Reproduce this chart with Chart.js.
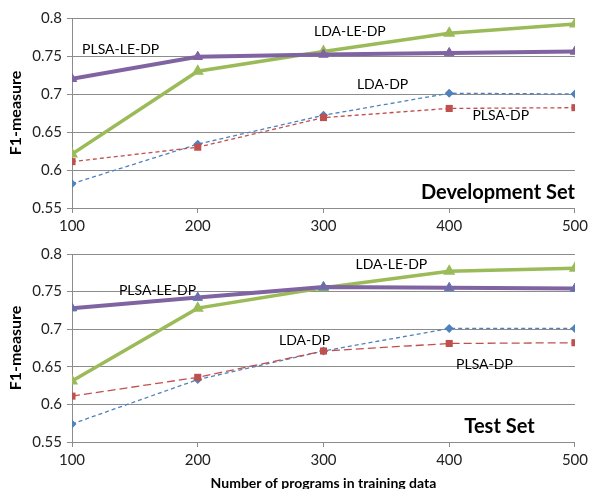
<!DOCTYPE html>
<html>
<head>
<meta charset="utf-8">
<script src="https://cdn.jsdelivr.net/npm/chart.js@4.4.1/dist/chart.umd.min.js"></script>
<style>
  html, body { margin: 0; padding: 0; background: #fff; }
  .box { position: relative; width: 592px; }
  #devBox { height: 240px; }
  #testBox { height: 249px; }
</style>
</head>
<body>
<div class="box" id="devBox"><canvas id="devChart"></canvas></div>
<div class="box" id="testBox"><canvas id="testChart"></canvas></div>
<script>
// データ
const trainSizes = [100, 200, 300, 400, 500];
const yTicks = [0.55, 0.6, 0.65, 0.7, 0.75, 0.8];

const devPlsaLe = [0.720, 0.749, 0.752, 0.754, 0.756];
const devLdaLe  = [0.621, 0.730, 0.756, 0.780, 0.792];
const devLda    = [0.582, 0.634, 0.672, 0.701, 0.700];
const devPlsa   = [0.611, 0.630, 0.669, 0.681, 0.682];

const testPlsaLe = [0.728, 0.742, 0.756, 0.755, 0.754];
const testLdaLe  = [0.631, 0.728, 0.755, 0.777, 0.781];
const testLda    = [0.574, 0.633, 0.671, 0.701, 0.701];
const testPlsa   = [0.611, 0.636, 0.671, 0.681, 0.682];

// 注記（データ座標）
const devNotes = [
  { text: 'PLSA-LE-DP', x: 108, y: 0.759, align: 'left' },
  { text: 'LDA-LE-DP', x: 321, y: 0.782, align: 'center' },
  { text: 'LDA-DP', x: 347, y: 0.713, align: 'center' },
  { text: 'PLSA-DP', x: 441, y: 0.672, align: 'center' },
  { text: 'Development Set', x: 500, y: 0.570, align: 'right', bold: true }
];
const testNotes = [
  { text: 'PLSA-LE-DP', x: 168, y: 0.751, align: 'center' },
  { text: 'LDA-LE-DP', x: 354, y: 0.786, align: 'center' },
  { text: 'LDA-DP', x: 285, y: 0.685, align: 'center' },
  { text: 'PLSA-DP', x: 428, y: 0.653, align: 'center' },
  { text: 'Test Set', x: 440, y: 0.570, align: 'center', bold: true }
];

const FONT = "Lato, 'Open Sans', sans-serif";
const GRID = '#8c8c8c';

const notesPlugin = {
  id: 'notes',
  afterDatasetsDraw(chart, args, opts) {
    const { ctx, scales: { x, y } } = chart;
    ctx.save();
    ctx.textBaseline = 'middle';
    opts.items.forEach(n => {
      ctx.font = n.bold ? `bold 20px ${FONT}` : `14px ${FONT}`;
      ctx.fillStyle = '#000';
      ctx.textAlign = n.align;
      ctx.fillText(n.text, x.getPixelForValue(n.x), y.getPixelForValue(n.y));
    });
    ctx.restore();
  }
};

function makeChart(id, sets, notes, opt) {
  const ctx = document.getElementById(id).getContext('2d');
  const toXY = arr => arr.map((v, i) => ({ x: trainSizes[i], y: v }));
  return new Chart(ctx, {
    type: 'line',
    data: {
      datasets: [
        {
          label: 'PLSA-DP',
          data: toXY(sets.plsa),
          borderColor: '#C0504D',
          backgroundColor: '#C0504D',
          borderWidth: 1.3,
          borderDash: opt.plsaDash,
          pointStyle: 'rect',
          pointRadius: 5,
          pointBorderWidth: 0
        },
        {
          label: 'LDA-DP',
          data: toXY(sets.lda),
          borderColor: '#4F81BD',
          backgroundColor: '#4F81BD',
          borderWidth: 1.3,
          borderDash: [4, 3],
          pointStyle: 'rectRot',
          pointRadius: 4.5,
          pointBorderWidth: 0
        },
        {
          label: 'PLSA-LE-DP',
          data: toXY(sets.plsaLe),
          borderColor: '#8064A2',
          backgroundColor: '#8064A2',
          pointBorderColor: opt.purpleEdge,
          borderWidth: 4,
          pointStyle: 'triangle',
          pointRadius: 5.5,
          pointBorderWidth: 1
        },
        {
          label: 'LDA-LE-DP',
          data: toXY(sets.ldaLe),
          borderColor: '#9BBB59',
          backgroundColor: '#9BBB59',
          borderWidth: 3.5,
          pointStyle: 'triangle',
          pointRadius: 7,
          pointBorderWidth: 0
        }
      ]
    },
    options: {
      responsive: true,
      maintainAspectRatio: false,
      animation: false,
      layout: { padding: { left: 0, right: 13, top: opt.top, bottom: 0 } },
      plugins: {
        legend: { display: false },
        tooltip: { enabled: false },
        notes: { items: notes }
      },
      scales: {
        x: {
          type: 'linear',
          min: 100,
          max: 500,
          afterBuildTicks: s => { s.ticks = trainSizes.map(v => ({ value: v })); },
          afterFit: s => { s.height = opt.xHeight; },
          ticks: { color: '#222', padding: 4, font: { family: FONT, size: 15 } },
          grid: { drawOnChartArea: false, drawTicks: true, tickLength: 5, color: GRID },
          border: { color: GRID },
          title: {
            display: opt.xTitle,
            text: 'Number of programs in training data',
            color: '#000',
            padding: { top: 0, bottom: -3 },
            font: { family: FONT, size: 14, weight: 'bold' }
          }
        },
        y: {
          min: 0.55,
          max: 0.8,
          afterBuildTicks: s => { s.ticks = yTicks.map(v => ({ value: v })); },
          afterFit: s => { s.width = 72; },
          ticks: {
            color: '#222',
            padding: 5,
            font: { family: FONT, size: 15 },
            callback: v => String(v)
          },
          grid: { color: GRID, tickLength: 5 },
          border: { color: GRID },
          title: {
            display: true,
            text: 'F1-measure',
            color: '#000',
            padding: { top: 6, bottom: 0 },
            font: { family: FONT, size: 16, weight: 'bold' }
          }
        }
      }
    },
    plugins: [notesPlugin]
  });
}

makeChart('devChart',
  { plsaLe: devPlsaLe, ldaLe: devLdaLe, lda: devLda, plsa: devPlsa },
  devNotes,
  { top: 18, xHeight: 32, xTitle: false, plsaDash: [4, 3], purpleEdge: '#8064A2' });

makeChart('testChart',
  { plsaLe: testPlsaLe, ldaLe: testLdaLe, lda: testLda, plsa: testPlsa },
  testNotes,
  { top: 13, xHeight: 47, xTitle: true, plsaDash: [8, 4], purpleEdge: '#4F81BD' });
</script>
</body>
</html>
